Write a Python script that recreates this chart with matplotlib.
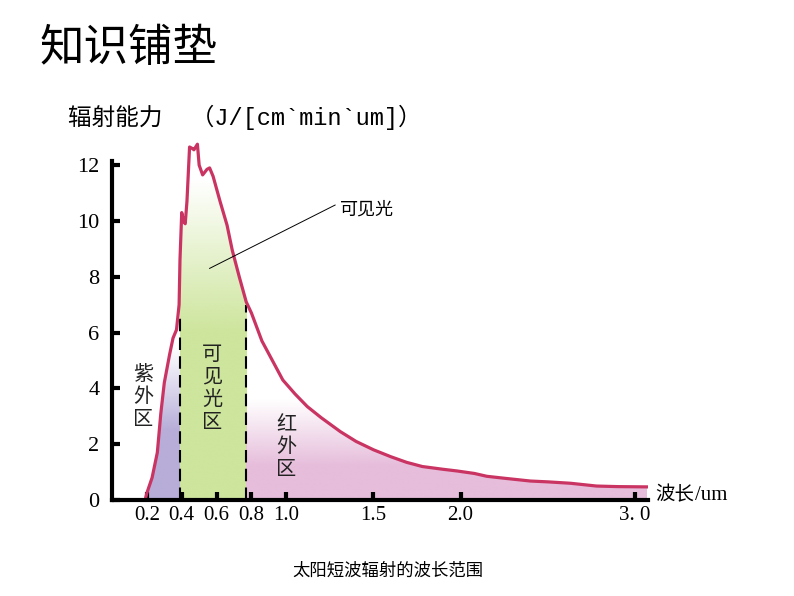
import numpy as np
import matplotlib
matplotlib.use('Agg')
import matplotlib.pyplot as plt
from matplotlib.patches import Polygon
from matplotlib.colors import to_rgb

plt.rcParams['font.family'] = ['Noto Sans CJK SC', 'DejaVu Sans']

# solar short-wave spectrum
wavelength = [0.19, 0.20, 0.23, 0.26, 0.28, 0.30, 0.33, 0.35, 0.37, 0.385, 0.39,
              0.40, 0.41, 0.42, 0.43, 0.445, 0.46, 0.47, 0.49, 0.50, 0.52, 0.545,
              0.56, 0.58, 0.62, 0.66, 0.69, 0.73, 0.77, 0.80, 0.86, 0.92, 0.98,
              1.05, 1.12, 1.20, 1.31, 1.40, 1.50, 1.60, 1.69, 1.78, 1.90, 1.98,
              2.08, 2.15, 2.25, 2.40, 2.50, 2.63, 2.78, 2.90, 3.07]
radiation = [0.0, 0.25, 0.8, 1.7, 3.1, 4.2, 5.2, 5.8, 6.1, 7.0, 8.6,
             10.3, 10.0, 9.9, 10.7, 12.65, 12.6, 12.55, 12.75, 12.0, 11.65, 11.85,
             11.9, 11.6, 10.7, 9.85, 8.95, 8.0, 7.1, 6.7, 5.7, 5.0, 4.3,
             3.8, 3.35, 2.95, 2.45, 2.1, 1.8, 1.55, 1.35, 1.2, 1.1, 1.04,
             0.95, 0.85, 0.78, 0.68, 0.65, 0.6, 0.5, 0.48, 0.47]

# bands: start, end, colour, fully coloured below, white above
bands = [(0.19, 0.39, '#b7add8', 2.5, 5.5),
         (0.39, 0.77, '#cde59c', 6.0, 11.5),
         (0.77, 3.07, '#e6bddb', 1.2, 3.6)]
band_edges = [0.39, 0.77]
band_edge_tops = [6.6, 7.0]

xticks = [0.2, 0.4, 0.6, 0.8, 1.0, 1.5, 2.0, 3.0]
xticklabels = ['0.2', '0.4', '0.6', '0.8', '1.0', '1.5', '2.0', '3. 0']
yticks = [0, 2, 4, 6, 8, 10, 12]

fig = plt.figure(figsize=(7.94, 5.96), dpi=100)
ax = fig.add_axes([112/794, 96/596, 536/794, 365/596])
ax.set_xlim(0, 3.075)
ax.set_ylim(0, 13.08)

# area under the curve, used to clip the gradient fills
verts = [(wavelength[0], 0)] + list(zip(wavelength, radiation)) + [(wavelength[-1], 0)]
area = Polygon(verts, closed=True, facecolor='none', edgecolor='none')
ax.add_patch(area)

ymax = 13.08
v = np.linspace(0, ymax, 300)
for x0, x1, col, y_solid, y_white in bands:
    a = np.clip((y_white - v) / (y_white - y_solid), 0, 1)
    img = np.zeros((len(v), 1, 4))
    img[:, 0, :3] = to_rgb(col)
    img[:, 0, 3] = a
    im = ax.imshow(img, origin='lower', extent=[x0, x1, 0, ymax],
                   aspect='auto', interpolation='bilinear', zorder=1)
    im.set_clip_path(area)

ax.plot(wavelength, radiation, color='#c93463', lw=2.3, zorder=3,
        solid_joinstyle='round')

for xe, top in zip(band_edges, band_edge_tops):
    ax.plot([xe, xe], [0, top], color='black', lw=1.5, ls=(0, (6, 3)), zorder=2)

# region labels
ax.text(0.178, 3.7, '紫\n外\n区', ha='center', va='center', fontsize=14.5,
        linespacing=1.1, color='#222222', zorder=4)
ax.text(0.574, 4.0, '可\n见\n光\n区', ha='center', va='center', fontsize=14.5,
        linespacing=1.1, color='#222222', zorder=4)
ax.text(1.0, 1.9, '红\n外\n区', ha='center', va='center', fontsize=14.5,
        linespacing=1.1, color='#222222', zorder=4)

ax.plot([0.56, 1.28], [8.3, 10.57], color='black', lw=0.7, zorder=4)
ax.text(1.31, 10.4, '可见光', ha='left', va='center', fontsize=13, zorder=4)

# axes styling
for s in ['top', 'right']:
    ax.spines[s].set_visible(False)
ax.spines['left'].set_linewidth(3)
ax.spines['bottom'].set_linewidth(3)
ax.spines['left'].set_bounds(0, 12.15)
ax.spines['left'].set_zorder(5)
ax.spines['bottom'].set_zorder(5)

ax.set_xticks(xticks)
ax.set_xticklabels(xticklabels, family='Liberation Serif', fontsize=15)
ax.set_yticks(yticks)
ax.set_yticklabels([str(t) for t in yticks], family='Liberation Serif', fontsize=16)
ax.tick_params(direction='in', length=6, width=3, color='black')
ax.tick_params(axis='x', pad=4)
ax.tick_params(axis='y', pad=9)

fig.text(655/794, 1 - 495/596, '波长', ha='left', va='center', fontsize=14)
fig.text(695/794, 1 - 495/596, '/um', ha='left', va='center', fontsize=15,
         family='Liberation Serif')
fig.text(68/794, 1 - 117/596, '辐射能力  （J/[cm`min`um]）', ha='left',
         va='center', fontsize=17, family=['Liberation Mono', 'Noto Sans CJK SC'])
fig.text(40/794, 1 - 48/596, '知识铺垫', ha='left', va='center', fontsize=32)
fig.text(388/794, 1 - 571/596, '太阳短波辐射的波长范围', ha='center',
         va='center', fontsize=12.5)

fig.savefig('out.png', dpi=100)
